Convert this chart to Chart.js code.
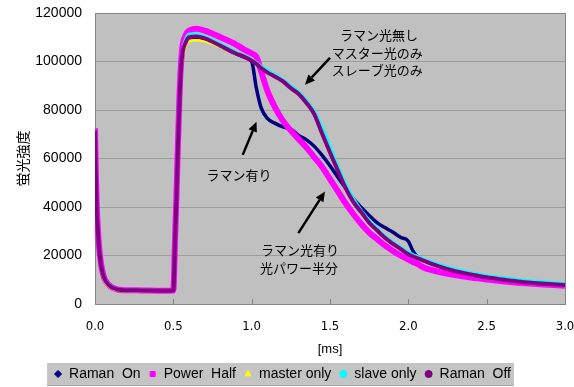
<!DOCTYPE html>
<html>
<head>
<meta charset="utf-8">
<script src="https://cdn.jsdelivr.net/npm/chart.js@4.4.1/dist/chart.umd.min.js"></script>
<style>
  html, body { margin: 0; padding: 0; background: #ffffff; }
  #wrap { width: 574px; height: 387px; }
</style>
</head>
<body>
<div id="wrap"><canvas id="c" width="574" height="387"></canvas></div>
<script>
// ---- data ----
const timeMs = [0, 0.005, 0.01, 0.02, 0.03, 0.04, 0.05, 0.06, 0.08, 0.10, 0.12, 0.15, 0.20, 0.30, 0.40, 0.50,
  0.51, 0.52, 0.53, 0.54, 0.55, 0.56, 0.58, 0.60, 0.65, 0.70, 0.80, 0.90, 0.95,
  1.00, 1.03, 1.06, 1.10, 1.15, 1.20, 1.25, 1.30, 1.35, 1.40, 1.45, 1.50, 1.55, 1.60, 1.65, 1.70, 1.75,
  1.80, 1.85, 1.90, 1.95, 2.00, 2.03, 2.06, 2.10, 2.20, 2.30, 2.40, 2.50, 2.60, 2.70, 2.80, 2.90, 3.00];

const ramanOn = [71000, 53500, 40500, 28000, 20000, 15200, 12300, 10300, 8200, 7100, 6400, 5900, 5700, 5600, 5500, 5600,
  23500, 43500, 65500, 84500, 97500, 103500, 107800, 109800, 110000, 109300, 106300, 103200, 101800,
  100000, 89000, 81000, 76500, 74500, 73000, 72200, 69500, 67700, 65000, 61300, 57000, 52300, 47800, 43400, 39800, 36500,
  33600, 31500, 29700, 27500, 25900, 21800, 19300, 17900, 15500, 13600, 12300, 11100, 10200, 9400, 8800, 8300, 7900];

const powerHalf = [72500, 55000, 42000, 29000, 21000, 16000, 12800, 10600, 8400, 7200, 6500, 5900, 5700, 5600, 5500, 5600,
  24500, 45000, 67000, 87000, 100000, 107000, 111000, 112700, 113500, 112700, 110000, 107000, 105000,
  103300, 102000, 96000, 88000, 81000, 75500, 71500, 68000, 64500, 60500, 56500, 51500, 46500, 41500, 37000, 33000, 29500,
  26800, 24200, 22000, 20000, 18300, 17300, 16500, 15000, 13200, 11900, 10900, 10100, 9400, 8800, 8300, 7900, 7500];

const masterOnly = [71000, 53000, 40000, 27500, 19500, 14500, 11500, 9600, 7600, 6700, 6100, 5600, 5400, 5400, 5400, 5500,
  22000, 41000, 63000, 82000, 95000, 102000, 106500, 108300, 108800, 108300, 106000, 103300, 102000,
  100500, 99200, 97700, 96000, 94000, 92100, 89500, 87000, 83400, 79000, 71500, 64000, 56000, 48800, 42800, 38000, 34000,
  30700, 27600, 25100, 22900, 20900, 20000, 19200, 18100, 15800, 14000, 12600, 11500, 10600, 9800, 9200, 8700, 8300];

const slaveOnly = [71800, 55000, 42000, 29000, 21000, 16000, 13000, 10900, 8700, 7400, 6700, 6000, 5800, 5700, 5600, 5700,
  25000, 45500, 67500, 87000, 99500, 105000, 109500, 111300, 111300, 110300, 107300, 104000, 102500,
  100800, 99600, 98100, 96500, 94500, 92500, 90000, 87500, 84000, 79500, 72800, 65000, 57000, 49500, 43500, 38600, 34600,
  31200, 28100, 25600, 23400, 21400, 20400, 19600, 18500, 16200, 14300, 12900, 11800, 10900, 10100, 9500, 9000, 8500];

const ramanOff = [71500, 54000, 41000, 28500, 20500, 15500, 12500, 10500, 8300, 7200, 6500, 5900, 5700, 5600, 5500, 5600,
  24000, 44000, 66000, 85000, 98000, 104000, 108000, 110000, 110300, 109500, 106500, 103300, 102000,
  100300, 99000, 97300, 95500, 93700, 91800, 89000, 86600, 82900, 78200, 70200, 62500, 55000, 47800, 42000, 37800, 33500,
  30400, 27300, 24900, 22700, 20500, 19600, 18800, 17800, 15400, 13500, 12200, 11000, 10100, 9300, 8700, 8200, 7800];

const seriesNames = ['Raman  On', 'Power  Half', 'master only', 'slave only', 'Raman  Off'];
const xTickValues = [0, 0.5, 1.0, 1.5, 2.0, 2.5, 3.0];
const yTickValues = [0, 20000, 40000, 60000, 80000, 100000, 120000];
const xTitle = '[ms]';
const yTitle = '蛍光強度';

// annotations (data coordinates)
const noteTexts = ['ラマン光無し', 'マスター光のみ', 'スレーブ光のみ', 'ラマン有り', 'ラマン光有り', '光パワー半分'];
const noteX = [1.812, 1.802, 1.802, 0.919, 1.308, 1.302];
const noteY = [111100, 103500, 96400, 53300, 22300, 14700];
const arrowFromX = [1.500, 0.943, 1.298];
const arrowFromY = [101500, 61500, 29200];
const arrowToX = [1.340, 1.031, 1.468];
const arrowToY = [90400, 75200, 46400];

// ---- build ----
function pts(vals) { return timeMs.map((t, i) => ({ x: t, y: vals[i] })); }

const styles = [
  { color: '#000080', width: 3.5, point: 'rectRot', order: 5 },
  { color: '#ff00ff', width: 6, point: 'rect', order: 4 },
  { color: '#ffff00', width: 2.5, point: 'triangle', order: 3 },
  { color: '#00ffff', width: 3, point: 'circle', order: 2 },
  { color: '#800080', width: 4, point: 'circle', order: 1 }
];
const allValues = [ramanOn, powerHalf, masterOnly, slaveOnly, ramanOff];

const datasets = allValues.map((vals, i) => ({
  label: seriesNames[i],
  data: pts(vals),
  borderColor: styles[i].color,
  backgroundColor: styles[i].color,
  borderWidth: styles[i].width,
  pointRadius: 0,
  pointHoverRadius: 0,
  pointStyle: styles[i].point,
  pointBackgroundColor: styles[i].color,
  pointBorderColor: styles[i].color,
  pointBorderWidth: 1,
  cubicInterpolationMode: 'monotone',
  fill: false,
  order: styles[i].order
}));

function drawArrow(ctx, x1, y1, x2, y2) {
  const ang = Math.atan2(y2 - y1, x2 - x1);
  const hl = 10, hw = 4.5;
  const bx = x2 - hl * Math.cos(ang), by = y2 - hl * Math.sin(ang);
  ctx.strokeStyle = '#000'; ctx.fillStyle = '#000'; ctx.lineWidth = 2.5;
  ctx.beginPath(); ctx.moveTo(x1, y1); ctx.lineTo(bx, by); ctx.stroke();
  ctx.beginPath();
  ctx.moveTo(x2, y2);
  ctx.lineTo(bx + hw * Math.sin(ang), by - hw * Math.cos(ang));
  ctx.lineTo(bx - hw * Math.sin(ang), by + hw * Math.cos(ang));
  ctx.closePath(); ctx.fill();
}

const deco = {
  id: 'deco',
  beforeDraw(chart) {
    const { ctx, chartArea: a } = chart;
    ctx.save();
    ctx.fillStyle = '#c0c0c0';
    ctx.fillRect(a.left, a.top, a.right - a.left, a.bottom - a.top);
    const lg = chart.legend;
    if (lg && lg.legendHitBoxes && lg.legendHitBoxes.length) {
      const hb = lg.legendHitBoxes;
      const l = Math.min(...hb.map(h => h.left)) - 7;
      const r = Math.max(...hb.map(h => h.left + h.width)) + 3;
      const t = hb[0].top - 4, b = hb[0].top + hb[0].height + 4;
      ctx.fillStyle = '#c4c4c4';
      ctx.fillRect(l, t, r - l, b - t);
      ctx.strokeStyle = '#a8a8a8'; ctx.lineWidth = 1;
      ctx.beginPath(); ctx.moveTo(l, b + 0.5); ctx.lineTo(r, b + 0.5); ctx.stroke();
    }
    ctx.restore();
  },
  beforeDatasetsDraw(chart) {
    const { ctx, chartArea: a, scales } = chart;
    ctx.save();
    ctx.strokeStyle = '#858585'; ctx.lineWidth = 1;
    ctx.strokeRect(Math.round(a.left) + 0.5, Math.round(a.top) + 0.5, Math.round(a.right - a.left), Math.round(a.bottom - a.top));
    ctx.beginPath();
    xTickValues.forEach(v => {
      const px = Math.round(scales.x.getPixelForValue(v)) + 0.5;
      ctx.moveTo(px, a.bottom - 5); ctx.lineTo(px, a.bottom);
    });
    ctx.stroke();
    ctx.restore();
  },
  afterDatasetsDraw(chart) {
    const { ctx, scales } = chart;
    ctx.save();
    ctx.fillStyle = '#000';
    ctx.font = '13px "Noto Sans CJK JP"';
    ctx.textAlign = 'center'; ctx.textBaseline = 'middle';
    noteTexts.forEach((t, i) => {
      ctx.fillText(t, scales.x.getPixelForValue(noteX[i]), scales.y.getPixelForValue(noteY[i]));
    });
    arrowFromX.forEach((fx, i) => {
      drawArrow(ctx,
        scales.x.getPixelForValue(fx), scales.y.getPixelForValue(arrowFromY[i]),
        scales.x.getPixelForValue(arrowToX[i]), scales.y.getPixelForValue(arrowToY[i]));
    });
    ctx.restore();
  }
};

new Chart(document.getElementById('c'), {
  type: 'line',
  data: { datasets },
  options: {
    responsive: false,
    animation: false,
    devicePixelRatio: 1,
    layout: { padding: { left: 0, right: 9, top: 13, bottom: -4 } },
    plugins: {
      tooltip: { enabled: false },
      legend: {
        position: 'bottom',
        labels: {
          usePointStyle: true,
          boxWidth: 8,
          boxHeight: 5,
          padding: 8,
          color: '#000',
          font: { family: '"Liberation Sans", Arial, sans-serif', size: 14 },
          sort: (a, b) => a.datasetIndex - b.datasetIndex
        }
      }
    },
    scales: {
      x: {
        type: 'linear',
        min: 0, max: 3,
        afterFit: s => { s.height = 55; s.paddingLeft = 0; s.paddingRight = 0; },
        afterBuildTicks: s => { s.ticks = xTickValues.map(v => ({ value: v })); },
        ticks: {
          padding: 15,
          color: '#000',
          font: { family: '"Liberation Sans Narrow", "DejaVu Sans Condensed", "Liberation Sans", sans-serif', size: 13 },
          callback: v => Number(v).toFixed(1),
          maxRotation: 0
        },
        grid: { display: false, drawTicks: false },
        border: { display: false },
        title: {
          display: true, text: xTitle, color: '#000',
          font: { family: '"Liberation Sans", Arial, sans-serif', size: 13 },
          padding: { top: 0, bottom: 2 }
        }
      },
      y: {
        min: 0, max: 120000,
        afterFit: s => { s.width = 95; s.paddingTop = 0; s.paddingBottom = 0; },
        afterBuildTicks: s => { s.ticks = yTickValues.map(v => ({ value: v })); },
        ticks: {
          padding: 13,
          color: '#000',
          font: { family: '"Liberation Sans", Arial, sans-serif', size: 14 },
          callback: v => String(v)
        },
        grid: { color: '#9c9c9c', lineWidth: 1, drawTicks: false },
        border: { display: false },
        title: {
          display: true, text: yTitle, color: '#000',
          font: { family: '"Noto Sans CJK JP", sans-serif', size: 14 },
          padding: { top: 14, bottom: 0 }
        }
      }
    }
  },
  plugins: [deco]
});
</script>
</body>
</html>
